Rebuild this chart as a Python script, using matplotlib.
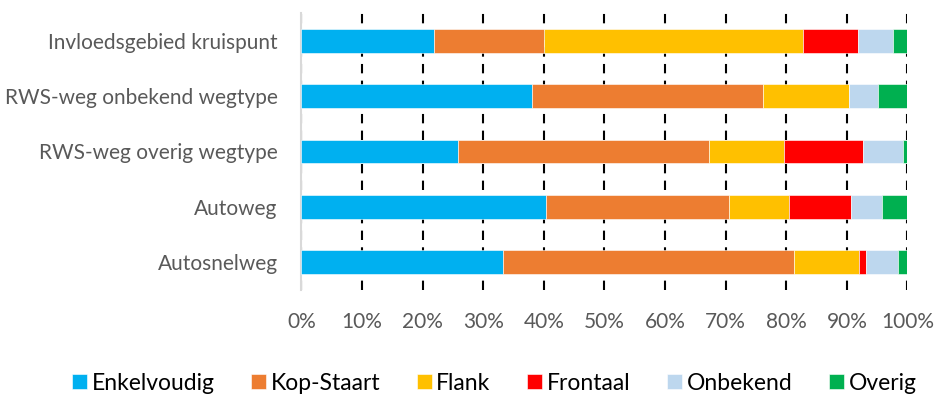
import numpy as np
import matplotlib.pyplot as plt

plt.rcParams['font.family'] = ['Lato', 'DejaVu Sans']

categories = ['Invloedsgebied kruispunt', 'RWS-weg onbekend wegtype',
              'RWS-weg overig wegtype', 'Autoweg', 'Autosnelweg']
series = ['Enkelvoudig', 'Kop-Staart', 'Flank', 'Frontaal', 'Onbekend', 'Overig']
colors = ['#00B0F0', '#ED7D31', '#FFC000', '#FF0000', '#BDD7EE', '#00B050']

# share per category (%), columns follow `series`
enkelvoudig = [21.8, 38.0, 25.9, 40.4, 33.3]
kop_staart = [18.2, 38.1, 41.4, 30.2, 47.9]
flank = [42.8, 14.3, 12.3, 9.8, 10.8]
frontaal = [9.0, 0.0, 13.1, 10.3, 1.2]
onbekend = [5.8, 4.8, 6.5, 5.1, 5.2]
overig = [2.4, 4.8, 0.8, 4.2, 1.6]
values = [enkelvoudig, kop_staart, flank, frontaal, onbekend, overig]

fig = plt.figure(figsize=(9.36, 3.95), dpi=100)
ax = fig.add_axes([0.322, 0.266, 0.6475, 0.701])

y = np.arange(len(categories))
left = np.zeros(len(categories))
for name, vals, col in zip(series, values, colors):
    vals = np.array(vals)
    ax.barh(y, vals, left=left, height=0.43, color=col, label=name,
            edgecolor='white', linewidth=0.4, zorder=3)
    left += vals

ax.set_xlim(0, 100)
ax.set_ylim(len(categories) - 0.5, -0.5)
ax.set_yticks(y)
ax.set_yticklabels(categories)
ax.set_xticks(np.arange(0, 101, 10))
ax.set_xticklabels([f'{v}%' for v in range(0, 101, 10)])
ax.tick_params(length=0, labelsize=15, colors='#595959')
ax.tick_params(axis='y', pad=17)
ax.tick_params(axis='x', pad=16)

ax.grid(axis='x', color='black', linewidth=1.5, linestyle=(0, (4.5, 3.5)), zorder=1)
for s in ['top', 'right', 'bottom']:
    ax.spines[s].set_visible(False)
ax.spines['left'].set_color('#D9D9D9')
ax.spines['left'].set_linewidth(1.5)

fig.legend(loc='center', bbox_to_anchor=(0.528, 0.03), ncol=6, frameon=False,
           fontsize=16.5, handlelength=0.65, handleheight=0.65, handletextpad=0.2,
           columnspacing=1.6, borderpad=0, labelcolor='black')

fig.savefig('out.png', dpi=100)
